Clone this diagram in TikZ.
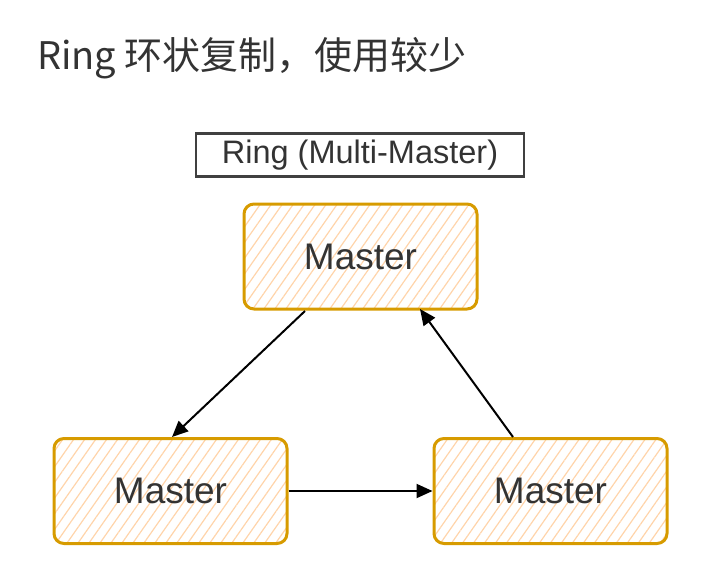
\documentclass[tikz,border=0pt]{standalone}
\usepackage{fontspec}
\setmainfont{Liberation Sans}
\newfontfamily\cjk{Noto Sans CJK SC}
\usetikzlibrary{patterns.meta,arrows.meta}
\definecolor{txt}{HTML}{333333}
\definecolor{ostroke}{HTML}{D79B00}
\definecolor{ohatch}{HTML}{FFD4AA}
\tikzset{
  mbox/.style={draw=ostroke,line width=3pt,rounded corners=10pt,
    pattern={Lines[angle=55,distance=9pt,line width=1.2pt]},pattern color=ohatch,
    minimum width=233pt,minimum height=105pt,inner sep=0pt,
    font=\fontsize{37}{40}\selectfont,text=txt},
  rbox/.style={draw=black!75,line width=2.4pt,minimum width=328pt,minimum height=43pt,
    inner sep=0pt,font=\fontsize{32.5}{34}\selectfont,text=txt},
  conn/.style={-{Triangle[length=16pt,width=14pt]},line width=2pt,black}
}
\begin{document}
\begin{tikzpicture}[x=1pt,y=-1pt]
\useasboundingbox (0,0) rectangle (706,576);
\node[anchor=base west,inner sep=0pt,text=txt,font=\cjk\fontsize{38}{42}\selectfont] (title) at (37,69) {Ring 环状复制，使用较少};
\node[rbox] (ring) at (360,155) {Ring (Multi-Master)};
\node[mbox] (top) at (360.5,256.5) {Master};
\node[mbox] (bl) at (170.5,491) {Master};
\node[mbox] (br) at (550.5,491) {Master};
\coordinate (t1) at (305,311);
\coordinate (t2) at (420,309);
\coordinate (b1) at (172,437);
\coordinate (b2) at (513,437);
\draw[conn] (t1) -- (b1);
\draw[conn] (b2) -- (t2);
\draw[conn] (bl.east) -- (br.west);
\end{tikzpicture}
\end{document}
